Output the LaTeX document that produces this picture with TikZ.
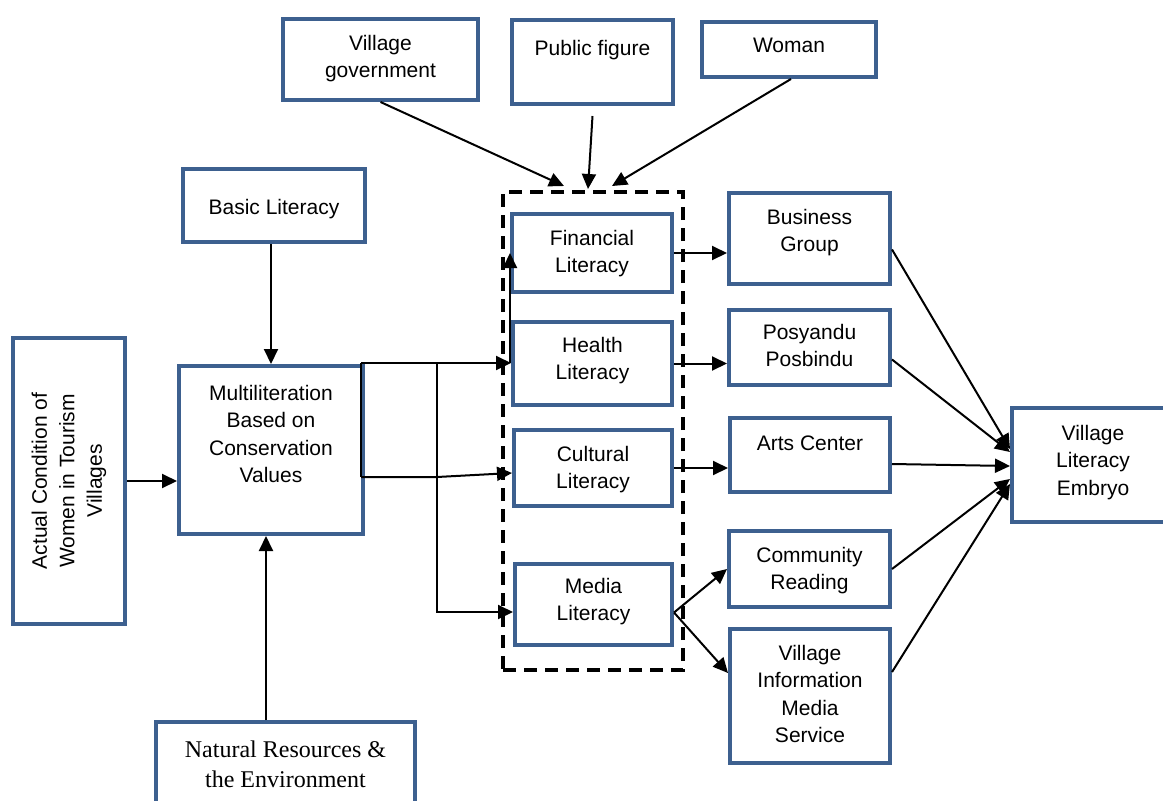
\documentclass[tikz,border=0pt]{standalone}
\usepackage{fontspec}
\setmainfont{Liberation Sans}
\newfontfamily\serifnr{Liberation Serif}
\usetikzlibrary{arrows.meta}
\definecolor{bblue}{RGB}{61,96,143}
\newcommand{\bt}[4]{\parbox[c][#2][t]{#1}{\centering\rule{0pt}{#3}#4\par}}
\tikzset{
  bx/.style={draw=bblue, line width=4pt, inner sep=0pt, fill=white},
  arr/.style={line width=2pt, -{Triangle[length=15pt,width=14pt]}},
  conn/.style={line width=2pt},
  grpbox/.style={draw=black, line width=4pt, dash pattern=on 13pt off 8pt, inner sep=0pt},
}
\begin{document}
\begin{tikzpicture}[x=1pt,y=-1pt, font=\fontsize{21}{27.5}\selectfont]
\useasboundingbox (0,0) rectangle (1163,801);
% top boxes
\node[bx, anchor=north west] (vg) at (281,17) {\bt{195pt}{81pt}{31pt}{Village\\government}};
\node[bx, anchor=north west] (pf) at (510,18) {\bt{161pt}{84pt}{35pt}{Public figure}};
\node[bx, anchor=north west] (wo) at (700,20) {\bt{174pt}{55pt}{30pt}{Woman}};
% left
\node[bx, anchor=north west] (bl) at (181,167) {\bt{182pt}{73pt}{45pt}{Basic Literacy}};
\node[bx, rotate=90, minimum width=286pt, minimum height=112pt, align=center] (ac) at (69,481) {Actual Condition of\\Women in Tourism\\Villages};
\node[bx, anchor=north west] (ml) at (177,364) {\bt{184pt}{168pt}{34pt}{Multiliteration\\Based on\\Conservation\\Values}};
\node[bx, anchor=north west, font=\serifnr\fontsize{24}{30}\selectfont] (nr) at (154,720) {\bt{259pt}{90pt}{35pt}{Natural Resources \&\\the Environment}};
% dashed group
\node[grpbox, anchor=north west, minimum width=180pt, minimum height=478pt] (grp) at (501,190) {};
% literacy boxes
\node[bx, anchor=north west] (fl) at (510,212) {\bt{160pt}{78pt}{31pt}{Financial\\Literacy}};
\node[bx, anchor=north west] (hl) at (511,320) {\bt{159pt}{83pt}{30pt}{Health\\Literacy}};
\node[bx, anchor=north west] (cl) at (512,428) {\bt{158pt}{76pt}{31pt}{Cultural\\Literacy}};
\node[bx, anchor=north west] (md) at (513,562) {\bt{157pt}{81pt}{29pt}{Media\\Literacy}};
% outcome boxes
\node[bx, anchor=north west] (bg) at (727,191) {\bt{161pt}{91pt}{31pt}{Business\\Group}};
\node[bx, anchor=north west] (py) at (727,308) {\bt{161pt}{75pt}{29pt}{Posyandu\\Posbindu}};
\node[bx, anchor=north west] (ar) at (728,416) {\bt{160pt}{74pt}{32pt}{Arts Center}};
\node[bx, anchor=north west] (cr) at (727,529) {\bt{161pt}{76pt}{31pt}{Community\\Reading}};
\node[bx, anchor=north west] (vi) at (728,627) {\bt{160pt}{134pt}{31pt}{Village\\Information\\Media\\Service}};
\node[bx, anchor=north west] (ve) at (1010,406) {\bt{162pt}{114pt}{32pt}{Village\\Literacy\\Embryo}};
% coordinates
\coordinate (t1) at (564,186);
\coordinate (t2) at (588,189);
\coordinate (t3) at (612,186);
\coordinate (s1) at (361,363);
\coordinate (s2) at (361,477);
\coordinate (j1) at (437,363);
\coordinate (j2) at (437,477);
\coordinate (m1) at (437,612);
% top arrows
\draw[arr] (vg.south) -- (t1);
\draw[arr] ([yshift=-10pt]pf.south) -- (t2);
\draw[arr] ([xshift=2pt]wo.south) -- (t3);
% into multiliteration
\draw[arr] (bl.south -| ml.north) -- (ml.north);
\draw[arr] (ac.south) -- (ac.south -| ml.west);
\draw[arr] ([xshift=-5pt]nr.north -| ml.south) -- ([xshift=-5pt]ml.south);
% multiliteration tree
\draw[conn] (s1) -- (s2);
\draw[arr] (s1) -- (s1 -| hl.west);
\draw[arr] (s1 -| fl.west) -- (fl.west);
\draw[conn] (j1) -- (j2);
\draw[arr] (s2) -- (j2) -- ([yshift=-5pt]cl.west);
\draw[arr] (j2) -- (m1) -- (m1 -| md.west);
% literacy to outcomes
\draw[arr] (fl.east) -- (fl.east -| bg.west);
\draw[arr] (hl.east) -- (hl.east -| py.west);
\draw[arr] (cl.east) -- (cl.east -| ar.west);
\draw[arr] ([yshift=-8pt]md.east) -- (cr.west);
\draw[arr] ([yshift=-8pt]md.east) -- ([yshift=23pt]vi.west);
% outcomes to embryo
\draw[arr] ([yshift=-11pt]bg.east) -- ([yshift=16pt]ve.west);
\draw[arr] ([yshift=-12pt]py.east) -- ([yshift=13pt]ve.west);
\draw[arr] ([yshift=-9pt]ar.east) -- ([yshift=-1pt]ve.west);
\draw[arr] (cr.east) -- ([yshift=-14pt]ve.west);
\draw[arr] ([yshift=24pt]vi.east) -- ([yshift=-19pt]ve.west);
\end{tikzpicture}
\end{document}
